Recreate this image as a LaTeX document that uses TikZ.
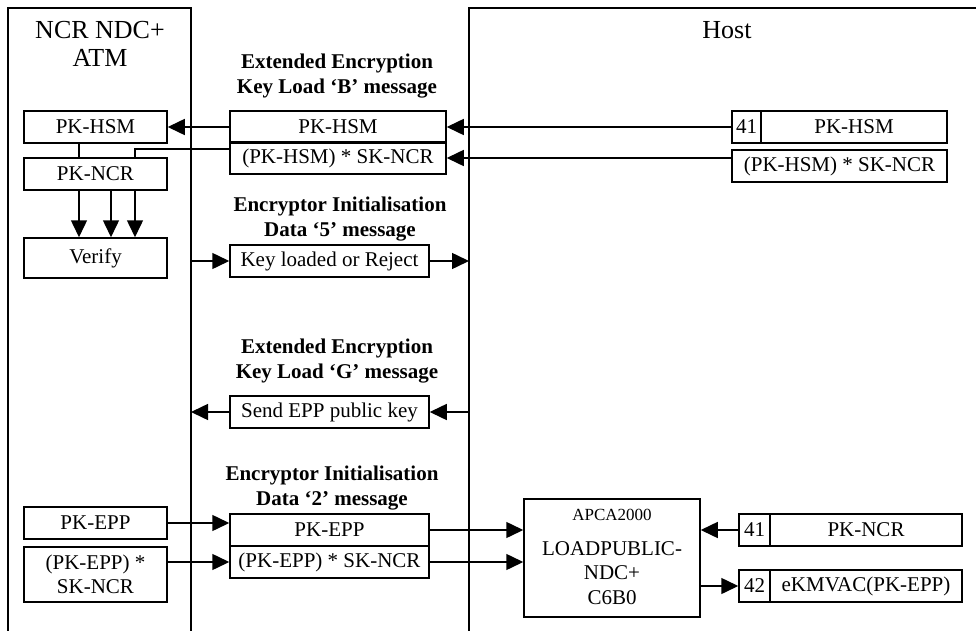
\documentclass[tikz,border=0pt]{standalone}
\usepackage{fontspec}
\setmainfont{Liberation Serif}
\usetikzlibrary{arrows.meta,calc}
\begin{document}
\begin{tikzpicture}[x=1pt,y=-1pt,
  box/.style={draw,line width=1.5pt,inner sep=0pt,align=center,font=\fontsize{21}{24}\selectfont},
  ttl/.style={inner sep=0pt,align=center,font=\fontsize{21}{25}\selectfont\bfseries},
  hdr/.style={inner sep=0pt,align=center,font=\fontsize{26}{28}\selectfont},
  ln/.style={line width=1.5pt},
  arr/.style={line width=1.5pt,-{Triangle[length=17pt,width=16pt]}}]
\useasboundingbox (0,0) rectangle (976,631);
% panels
\draw[ln] (8,631) -- (8,8) -- (191,8) -- (191,631);
\draw[ln] (976,8) -- (469,8) -- (469,631);
\coordinate (lp) at (191,0);
\coordinate (hp) at (469,0);
\coordinate (xa) at (79,0);
\coordinate (xb) at (111,0);
\coordinate (xc) at (135,0);
\node[hdr] (atm) at (100,44) {NCR NDC+\\ATM};
\node[hdr] (host) at (727,30) {Host};
% titles
\node[ttl] (t1) at (337,76) {Extended Encryption\\Key Load ‘B’ message};
\node[ttl] (t2) at (340,219) {Encryptor Initialisation\\Data ‘5’ message};
\node[ttl] (t3) at (337,361) {Extended Encryption\\Key Load ‘G’ message};
\node[ttl] (t4) at (332,488) {Encryptor Initialisation\\Data ‘2’ message};
% left boxes
\node[box,minimum width=143pt,minimum height=32pt] (lhsm) at (95.5,127) {PK-HSM};
\node[box,minimum width=143pt,minimum height=32pt] (lncr) at (95.5,174) {PK-NCR};
\node[box,minimum width=143pt,minimum height=40pt] (verify) at (95.5,258) {Verify};
\node[box,minimum width=143pt,minimum height=32pt] (lepp) at (95.5,523) {PK-EPP};
\node[box,minimum width=143pt,minimum height=55pt] (lepsk) at (95.5,574.5) {(PK-EPP) *\\SK-NCR};
% middle boxes
\node[box,minimum width=216pt,minimum height=32pt] (mhsm) at (338,127) {PK-HSM};
\node[box,minimum width=216pt,minimum height=32pt] (msk) at (338,158) {(PK-HSM) * SK-NCR};
\node[box,minimum width=199pt,minimum height=32pt] (keyl) at (329.5,261) {Key loaded or Reject};
\node[box,minimum width=199pt,minimum height=32pt] (send) at (329.5,412) {Send EPP public key};
\node[box,minimum width=199pt,minimum height=32pt] (mepp) at (329.5,530) {PK-EPP};
\node[box,minimum width=199pt,minimum height=32pt] (mepsk) at (329.5,562) {(PK-EPP) * SK-NCR};
% host boxes
\node[box,minimum width=29pt,minimum height=32pt] (h41a) at (746.5,127) {41};
\node[box,minimum width=186pt,minimum height=32pt] (hhsm) at (854,127) {PK-HSM};
\node[box,minimum width=215pt,minimum height=32pt] (hsk) at (839.5,166) {(PK-HSM) * SK-NCR};
\node[box,minimum width=176pt,minimum height=118pt] (apca) at (612,558) {};
\node[inner sep=0pt,font=\fontsize{17}{20}\selectfont] (apcat) at (612,515) {APCA2000};
\node[inner sep=0pt,align=center,font=\fontsize{21}{24.5}\selectfont] (apcab) at (612,573) {LOADPUBLIC-\\NDC+\\C6B0};
\node[box,minimum width=31pt,minimum height=32pt] (h41b) at (754.5,530) {41};
\node[box,minimum width=192pt,minimum height=32pt] (hncr) at (866,530) {PK-NCR};
\node[box,minimum width=31pt,minimum height=32pt] (h42) at (754.5,586) {42};
\node[box,minimum width=192pt,minimum height=32pt] (hkm) at (866,586) {eKMVAC(PK-EPP)};
% connectors
\draw[arr] (mhsm.west) -- (lhsm.east);
\draw[ln] (lhsm.south -| xa) -- (lncr.north -| xa);
\draw[ln] ($(msk.north west)+(0,8)$) -| (lncr.north -| xc);
\draw[arr] (lncr.south -| xa) -- (verify.north -| xa);
\draw[arr] (lncr.south -| xb) -- (verify.north -| xb);
\draw[arr] (lncr.south -| xc) -- (verify.north -| xc);
\draw[arr] (h41a.west) -- (mhsm.east);
\draw[arr] (hsk.west |- msk.east) -- (msk.east);
\draw[arr] (keyl.west -| lp) -- (keyl.west);
\draw[arr] (keyl.east) -- (keyl.east -| hp);
\draw[arr] (send.west) -- (send.west -| lp);
\draw[arr] (send.east -| hp) -- (send.east);
\draw[arr] (lepp.east) -- (lepp.east -| mepp.west);
\draw[arr] (mepsk.west -| lepsk.east) -- (mepsk.west);
\draw[arr] (mepp.east) -- (mepp.east -| apca.west);
\draw[arr] (mepsk.east) -- (mepsk.east -| apca.west);
\draw[arr] (h41b.west) -- (h41b.west -| apca.east);
\draw[arr] (h42.west -| apca.east) -- (h42.west);
\end{tikzpicture}
\end{document}
